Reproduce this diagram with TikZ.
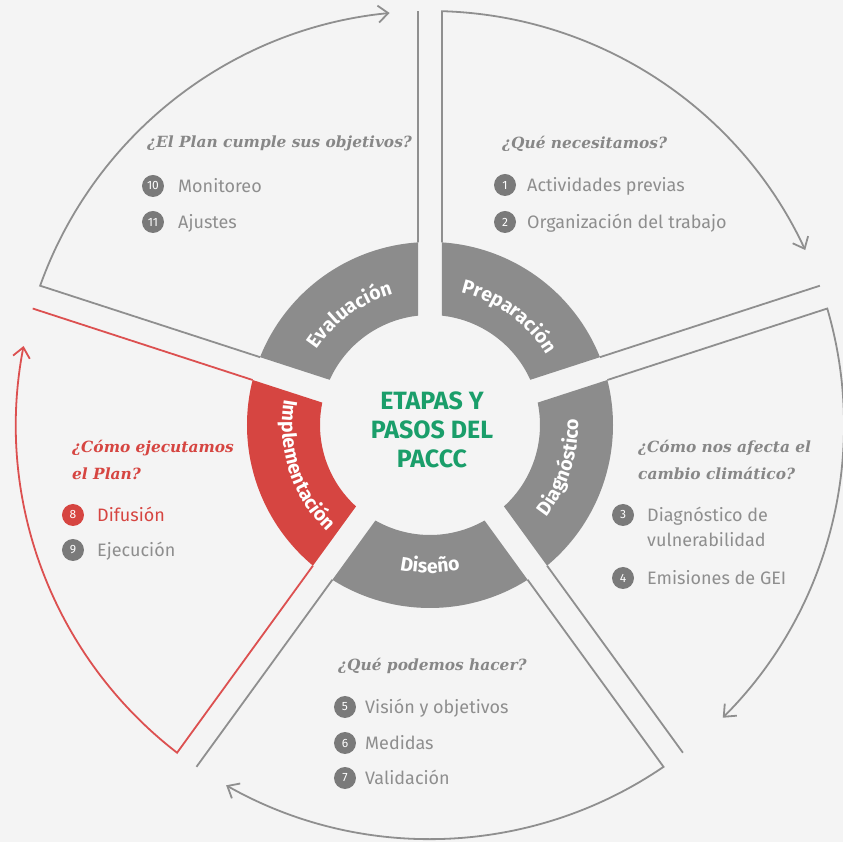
\documentclass[tikz,border=0pt]{standalone}
\usepackage{fontspec}
\setmainfont{Fira Sans}
\newfontfamily\qfont{DejaVu Serif}
\usetikzlibrary{arrows.meta,decorations.text}
\definecolor{bgc}{HTML}{F4F4F4}
\definecolor{ringgray}{HTML}{8C8C8C}
\definecolor{ringred}{HTML}{D64541}
\definecolor{linegray}{HTML}{8F8F8F}
\definecolor{linered}{HTML}{DC5050}
\definecolor{txtgray}{HTML}{8E8E8E}
\definecolor{qgray}{HTML}{878787}
\definecolor{numgray}{HTML}{7A7A7A}
\definecolor{paccc}{HTML}{1A9E6A}
\newcommand\RingSector[3]{%
  \fill[#3] ({#1-3.76}:183pt) arc[start angle={#1-3.76}, end angle={#2+3.76}, radius=183pt]
    -- ({#2+6.26}:110pt) arc[start angle={#2+6.26}, end angle={#1-6.26}, radius=110pt] -- cycle;}
\newcommand\PanelLines[4]{%
  \draw[#4, -{Straight Barb[length=10pt,width=17pt]}] ({#1-3.76}:183pt) -- ({#1-1.66}:414pt)
    arc[start angle={#1-1.66}, end angle=#3, radius=414pt];
  \draw[#4] ({#2+3.76}:183pt) -- ({#2+1.66}:414pt);}
\newcommand\RingFont{\fontsize{19.5}{19.5}\selectfont\bfseries}
\begin{document}
\begin{tikzpicture}[x=1pt,y=1pt,
  panelgray/.style={draw=linegray, line width=1.8pt},
  panelred/.style={draw=linered, line width=1.8pt},
  num/.style={circle, fill=numgray, text=white, minimum size=22pt, inner sep=0pt, font=\fontsize{12}{12}\selectfont},
  numred/.style={num, fill=ringred},
  itemtxt/.style={anchor=base west, inner sep=0pt, text=txtgray, font=\fontsize{18}{20}\selectfont},
  quest/.style={anchor=base west, inner sep=0pt, text=qgray, font=\qfont\bfseries\itshape\fontsize{15.4}{20}\selectfont},
  centertxt/.style={anchor=base, inner sep=0pt, text=paccc, font=\fontsize{25}{29}\selectfont\bfseries},
  ringlabel/.style={decorate, decoration={text along path, text align=center, text color=white, text={|\RingFont|#1}}}
]
\useasboundingbox (-430,-417) rectangle (413,425);
\fill[bgc] (-430,-417) rectangle (413,425);

% panels
\PanelLines{90}{18}{25}{panelgray}
\PanelLines{18}{-54}{-45}{panelgray}
\PanelLines{-54}{-126}{-119.5}{panelgray}
\PanelLines{234}{162}{169}{panelred}
\PanelLines{162}{90}{95.6}{panelgray}

% ring
\RingSector{90}{18}{ringgray}
\RingSector{18}{-54}{ringgray}
\RingSector{-54}{-126}{ringgray}
\RingSector{234}{162}{ringred}
\RingSector{162}{90}{ringgray}

% ring labels
\path[ringlabel={Evaluación}] (158:136pt) arc[start angle=158, end angle=94, radius=136pt];
\path[ringlabel={Preparación}] (86:136pt) arc[start angle=86, end angle=22, radius=136pt];
\path[ringlabel={Diagnóstico}] (-50:148pt) arc[start angle=-50, end angle=14, radius=148pt];
\path[ringlabel={Diseño}] (-122:148pt) arc[start angle=-122, end angle=-58, radius=148pt];
\path[ringlabel={Implementación}] (166:148pt) arc[start angle=166, end angle=230, radius=148pt];

% center
\node[centertxt] (c1) at (2,15) {ETAPAS Y};
\node[centertxt] (c2) at (2,-14) {PASOS DEL};
\node[centertxt] (c3) at (2,-43) {PACCC};

% Evaluacion panel
\node[quest] (qe) at (-283,277) {¿El Plan cumple sus objetivos?};
\node[num] (n10) at (-277,239) {10};
\node[itemtxt] (t10) at (-252,232.5) {Monitoreo};
\node[num] (n11) at (-277,203) {11};
\node[itemtxt] (t11) at (-252,196.5) {Ajustes};

% Preparacion panel
\node[quest] (qp) at (72,276) {¿Qué necesitamos?};
\node[num] (n1) at (75,240) {1};
\node[itemtxt] (t1) at (97,233.5) {Actividades previas};
\node[num] (n2) at (75,203) {2};
\node[itemtxt] (t2) at (97,196.5) {Organización del trabajo};

% Diagnostico panel
\node[quest] (qd1) at (208,-28) {¿Cómo nos afecta el};
\node[quest] (qd2) at (208,-55) {cambio climático?};
\node[num] (n3) at (193,-90) {3};
\node[itemtxt] (t3a) at (217,-96.5) {Diagnóstico de};
\node[itemtxt] (t3b) at (217,-121.5) {vulnerabilidad};
\node[num] (n4) at (193,-153) {4};
\node[itemtxt] (t4) at (217,-159.5) {Emisiones de GEI};

% Diseno panel
\node[quest] (qs) at (-92,-246) {¿Qué podemos hacer?};
\node[num] (n5) at (-85,-282) {5};
\node[itemtxt] (t5) at (-65,-288.5) {Visión y objetivos};
\node[num] (n6) at (-85,-318) {6};
\node[itemtxt] (t6) at (-65,-324.5) {Medidas};
\node[num] (n7) at (-85,-353) {7};
\node[itemtxt] (t7) at (-65,-359.5) {Validación};

% Implementacion panel
\node[quest, text=ringred] (qi1) at (-358,-28) {¿Cómo ejecutamos};
\node[quest, text=ringred] (qi2) at (-358,-55) {el Plan?};
\node[numred] (n8) at (-357,-90) {8};
\node[itemtxt, text=ringred] (t8) at (-333,-96.5) {Difusión};
\node[num] (n9) at (-357,-125) {9};
\node[itemtxt] (t9) at (-333,-131.5) {Ejecución};
\end{tikzpicture}
\end{document}
